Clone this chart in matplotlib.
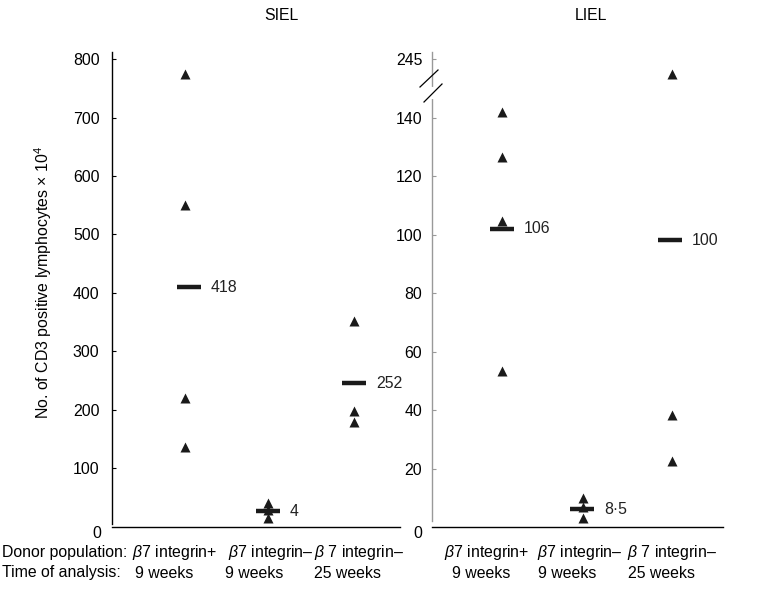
import matplotlib
matplotlib.use("Agg")
import matplotlib.pyplot as plt
from matplotlib.lines import Line2D

plt.rcParams['font.family'] = ['Liberation Sans', 'DejaVu Sans']
plt.rcParams['font.size'] = 11.4
plt.rcParams['mathtext.fontset'] = 'custom'
plt.rcParams['mathtext.it'] = 'Liberation Sans:italic'
plt.rcParams['mathtext.rm'] = 'Liberation Sans'

# data (SIEL)
siel_groups = [[775, 550, 220, 136], [40, 28, 15], [352, 198, 179]]
siel_means = [410, 26, 245]
siel_labels = ['418', '4', '252']
# data (LIEL); values above the break are drawn relative to the 245 tick
liel_groups = [[142, 126.5, 104.6, 53.3], [10, 7, 3], [240, 38.3, 22.6]]
liel_means = [102, 6, 98]
liel_labels = ['106', '8·5', '100']

donor = ['$\\beta$7 integrin+', '$\\beta$7 integrin\u2013', '$\\beta$ 7 integrin\u2013']
time_lbl = ['9 weeks', '9 weeks', '25 weeks']

W, H = 759, 592
fig = plt.figure(figsize=(W / 100, H / 100), dpi=100)


def fx(px):
    return px / W


def fy(py):
    return 1 - py / H


def no_brk(v):
    return v


def brk(v):
    # broken axis: 245 sits where 160 would be
    if v > 160:
        return 160 - (245 - v)
    return v


def panel(rect, xlim, ylim, xpos, bpos, groups, means, labels, spine_col, tf):
    ax = fig.add_axes(rect)
    ax.set_xlim(*xlim)
    ax.set_ylim(*ylim)
    for s in ['top', 'right']:
        ax.spines[s].set_visible(False)
    ax.spines['left'].set_color(spine_col)
    ax.spines['left'].set_linewidth(1.0)
    ax.spines['bottom'].set_linewidth(1.0)
    ax.set_xticks([])
    ax.tick_params(axis='y', direction='in', length=3, width=0.8, color=spine_col)
    for x, b, g, m, lb in zip(xpos, bpos, groups, means, labels):
        ax.plot([x] * len(g), [tf(v) for v in g], '^', color='#1a1a1a',
                ms=7.5, mec='none', clip_on=False, zorder=3)
        ax.plot([b - 12, b + 12], [m, m], '-', color='#1a1a1a', lw=3.2,
                solid_capstyle='butt', zorder=4)
        ax.text(b + 22, m, lb, ha='left', va='center', color='#222222')
    return ax


# left panel SIEL
ax1 = panel([fx(112), fy(526.5), fx(288), 474.5 / H], (0, 288), (0, 812.5),
            [73, 156, 242], [77, 156, 242],
            siel_groups, siel_means, siel_labels, 'black', no_brk)
ax1.set_yticks([100, 200, 300, 400, 500, 600, 700, 800])
ax1.tick_params(axis='y', pad=9)
ax1.spines['left'].set_bounds(4, 812.5)

# right panel LIEL
ax2 = panel([fx(432), fy(527), fx(291), 475 / H], (0, 291), (0, 162.4),
            [70, 151, 240], [70, 150, 238],
            liel_groups, liel_means, liel_labels, '#999999', brk)
ax2.set_yticks([20, 40, 60, 80, 100, 120, 140, 160])
ax2.set_yticklabels(['20', '40', '60', '80', '100', '120', '140', '245'])
ax2.tick_params(axis='y', pad=7)
ax2.spines['left'].set_bounds(2, 162.4)

# axis break on the right panel
fig.add_artist(Line2D([fx(432), fx(432)], [fy(89), fy(97)], color='white', lw=3))
fig.add_artist(Line2D([fx(420), fx(438)], [fy(87), fy(70)], color='black', lw=0.9))
fig.add_artist(Line2D([fx(424), fx(442)], [fy(102), fy(84)], color='black', lw=0.9))

# zero labels
fig.text(fx(97), fy(533), '0', ha='center', va='center')
fig.text(fx(418), fy(533), '0', ha='center', va='center')

# titles
fig.text(fx(281), fy(16), 'SIEL', ha='center', va='center')
fig.text(fx(591), fy(16), 'LIEL', ha='center', va='center')

# y label
fig.text(fx(43), fy(282), 'No. of CD3 positive lymphocytes \u00d7 10$^4$',
         rotation=90, ha='center', va='center')

# category labels
fig.text(fx(2), fy(553), 'Donor population:', ha='left', va='center')
fig.text(fx(2), fy(573), 'Time of analysis:', ha='left', va='center')
for cx, tx, d, t in zip([175, 271, 359], [164, 254, 347], donor, time_lbl):
    fig.text(fx(cx), fy(553), d, ha='center', va='center')
    fig.text(fx(tx), fy(573), t, ha='center', va='center')
for cx, tx, d, t in zip([487, 580, 672], [481, 567, 661], donor, time_lbl):
    fig.text(fx(cx), fy(553), d, ha='center', va='center')
    fig.text(fx(tx), fy(573), t, ha='center', va='center')

fig.savefig('out.png', dpi=100)
